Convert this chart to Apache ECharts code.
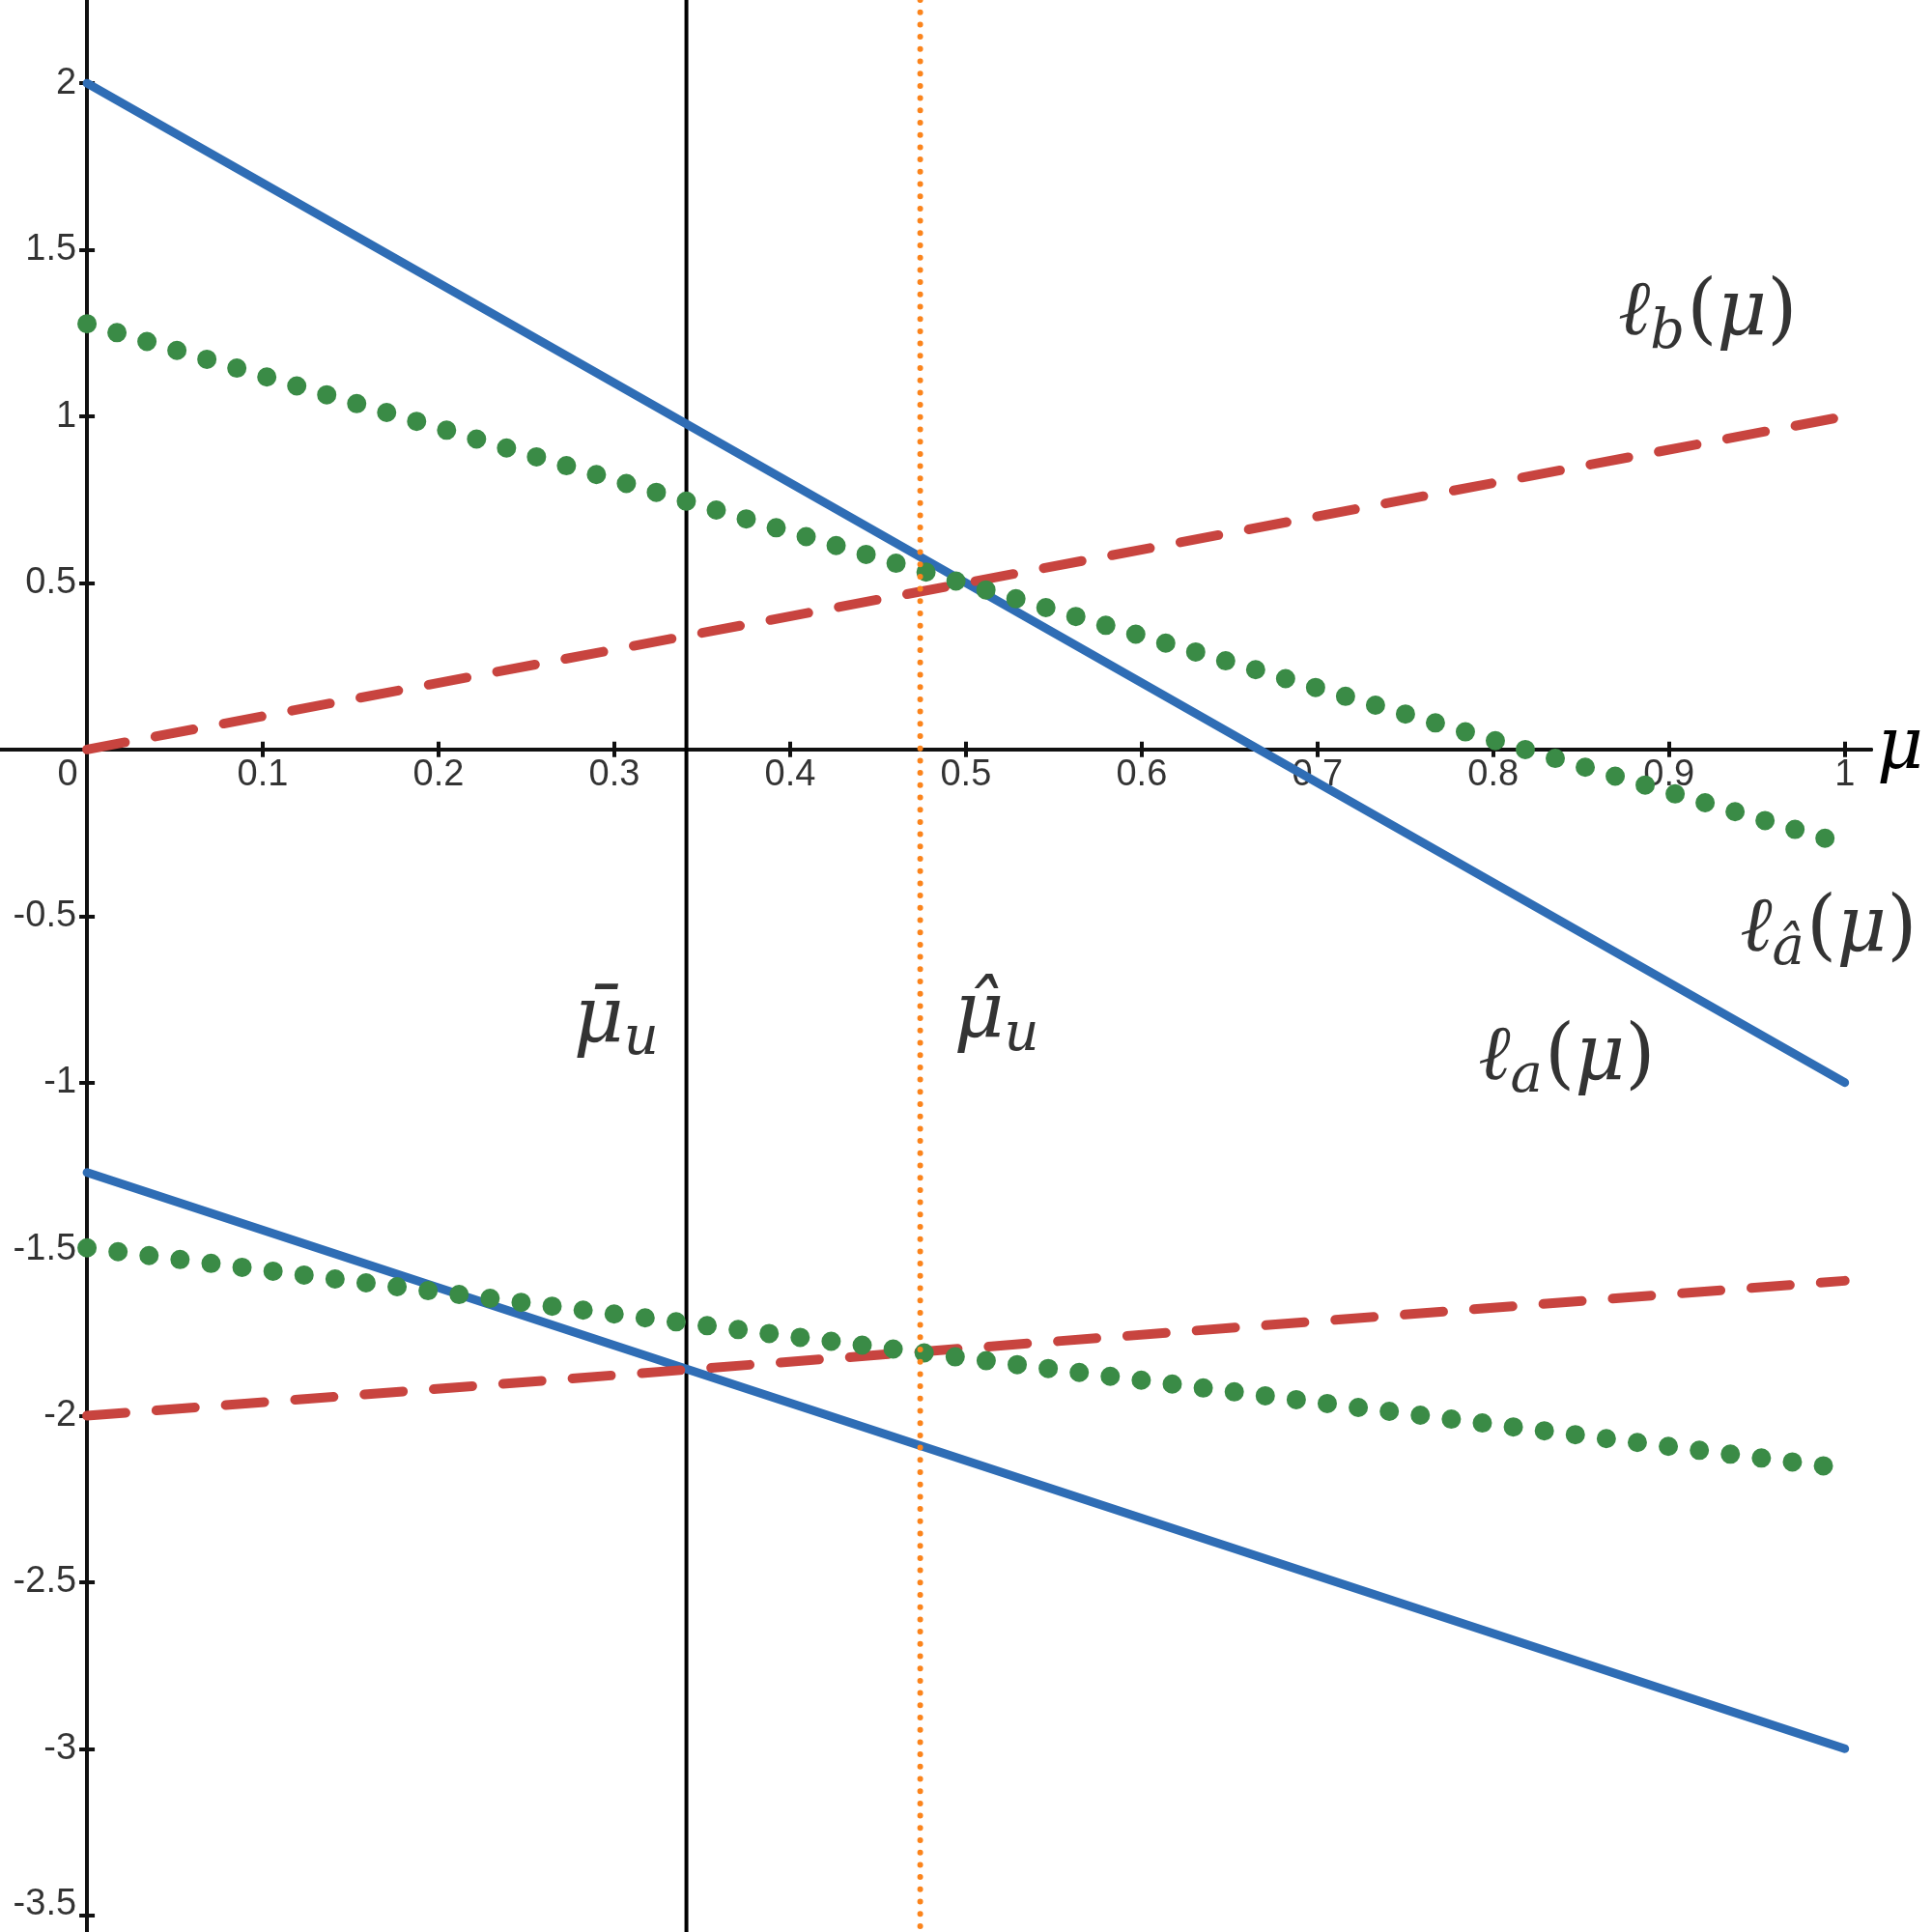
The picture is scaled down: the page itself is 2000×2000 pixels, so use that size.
<!DOCTYPE html>
<html>
<head>
<meta charset="utf-8">
<script src="https://cdn.jsdelivr.net/npm/echarts@6/dist/echarts.min.js"></script>
<style>
  html, body { margin: 0; padding: 0; background: #fff; }
  #chart { width: 2000px; height: 2000px; }
</style>
</head>
<body>
<div id="chart"></div>
<script>
// axis extents (the plot fills the whole canvas)
const xRange = [-0.0495, 1.015]
const yRange = [-3.55, 2.25]

const xTicks = [0.1, 0.2, 0.3, 0.4, 0.5, 0.6, 0.7, 0.8, 0.9, 1]
const xLabels = [0, 0.1, 0.2, 0.3, 0.4, 0.5, 0.6, 0.7, 0.8, 0.9, 1]
const yTicks = [-3.5, -3, -2.5, -2, -1.5, -1, -0.5, 0.5, 1, 1.5, 2]

// line endpoints [mu, value]
const laUpper = [[0, 2], [1, -1]]
const lbUpper = [[0, 0], [1, 1]]
const lhatUpper = [[0, 1.278], [0.991, -0.27]]
const laLower = [[0, -1.27], [1, -3]]
const lbLower = [[0, -2], [1, -1.595]]
const lhatLower = [[0, -1.496], [0.99, -2.152]]

// vertical markers
const muBar = 0.341
const muHat = 0.474

// annotations
const noteText = [
  '{l|ℓ}{s|b}{p|(}{m|μ}{p|)}',
  '{l|ℓ}{s|â}{p|(}{m|μ}{p|)}',
  '{l|ℓ}{s|a}{p|(}{m|μ}{p|)}',
  '{m|μ̄}{s|u}',
  '{m|μ̂}{s|u}'
]
const noteX = [0.922, 0.9907, 0.8418, 0.3016, 0.518]
const noteY = [1.3075, -0.543, -0.928, -0.815, -0.801]

const blue = '#2f6db5'
const red = '#c8443f'
const green = '#3a8b46'
const orange = '#fb841c'
const ink = '#111'
const mathFont = 'DejaVu Serif'
const tickFont = 'Liberation Sans'

const chart = echarts.init(document.getElementById('chart'))

const lineSeries = (data, style) => ({
  type: 'line',
  data: data,
  symbol: 'none',
  silent: true,
  z: 3,
  lineStyle: Object.assign({ cap: 'round' }, style)
})

const gridBox = { left: 0, right: 63, top: 0, bottom: 0, containLabel: false, outerBoundsMode: 'none' }
const axisLine = { onZero: true, lineStyle: { color: ink, width: 4 } }
const tickStyle = { color: ink, width: 4 }

// tick labels are drawn as text-only points so they sit under the lines
const tickLabelSeries = (data, label) => ({
  type: 'scatter',
  silent: true,
  symbolSize: 0,
  z: 1,
  data: data,
  label: Object.assign({
    show: true,
    fontSize: 38,
    fontFamily: tickFont,
    color: '#000'
  }, label)
})

const option = {
  animation: false,
  backgroundColor: '#fff',
  // second grid on the same box only carries the inner half of each tick
  grid: [Object.assign({}, gridBox), Object.assign({}, gridBox)],
  xAxis: [
    {
      type: 'value',
      gridIndex: 0,
      min: xRange[0],
      max: xRange[1],
      splitLine: { show: false },
      axisLine: axisLine,
      axisTick: { show: true, customValues: xTicks, length: 8, lineStyle: tickStyle },
      axisLabel: { show: false },
      name: 'μ',
      nameLocation: 'end',
      nameGap: 6,
      nameTextStyle: {
        fontFamily: mathFont,
        fontStyle: 'italic',
        fontSize: 74,
        color: '#000',
        verticalAlign: 'middle',
        padding: [0, 0, 8, 0]
      }
    },
    {
      type: 'value',
      gridIndex: 1,
      min: xRange[0],
      max: xRange[1],
      splitLine: { show: false },
      axisLine: axisLine,
      axisTick: { show: true, inside: true, customValues: xTicks, length: 8, lineStyle: tickStyle },
      axisLabel: { show: false }
    }
  ],
  yAxis: [
    {
      type: 'value',
      gridIndex: 0,
      min: yRange[0],
      max: yRange[1],
      splitLine: { show: false },
      axisLine: axisLine,
      axisTick: { show: true, customValues: yTicks, length: 8, lineStyle: tickStyle },
      axisLabel: { show: false }
    },
    {
      type: 'value',
      gridIndex: 1,
      min: yRange[0],
      max: yRange[1],
      splitLine: { show: false },
      axisLine: axisLine,
      axisTick: { show: true, inside: true, customValues: yTicks, length: 8, lineStyle: tickStyle },
      axisLabel: { show: false }
    }
  ],
  series: [
    // x tick labels (origin label nudged left like the original)
    tickLabelSeries(
      xLabels.map(v => (v === 0
        ? { value: [v, 0], label: { offset: [-20, 0] } }
        : { value: [v, 0] })),
      { position: 'bottom', distance: 8, formatter: p => String(p.value[0]) }
    ),
    // y tick labels (lowest one lifted off the bottom edge)
    tickLabelSeries(
      yTicks.map(v => (v === -3.5
        ? { value: [0, v], label: { offset: [0, -11] } }
        : { value: [0, v] })),
      { position: 'left', distance: 11, formatter: p => String(p.value[1]) }
    ),
    // vertical markers
    lineSeries([[muBar, yRange[0]], [muBar, yRange[1]]], { color: '#000', width: 4, cap: 'butt' }),
    // l_a (solid blue)
    lineSeries(laUpper, { color: blue, width: 9 }),
    lineSeries(laLower, { color: blue, width: 9 }),
    // l_b (dashed red)
    lineSeries(lbUpper, { color: red, width: 10, type: [40, 32] }),
    lineSeries(lbLower, { color: red, width: 10, type: [40, 32] }),
    // l_a-hat (dotted green)
    lineSeries(lhatUpper, { color: green, width: 20, type: [0, 32.35] }),
    lineSeries(lhatLower, { color: green, width: 20, type: [0, 32.35] }),
    lineSeries([[muHat, yRange[1]], [muHat, yRange[0]]], { color: orange, width: 6, type: [0, 12.7] }),
    {
      type: 'scatter',
      silent: true,
      symbolSize: 0,
      z: 4,
      data: noteX.map((x, i) => [x, noteY[i], noteText[i]]),
      label: {
        show: true,
        position: 'inside',
        formatter: p => p.data[2],
        color: '#000',
        fontFamily: mathFont,
        rich: {
          l: { fontFamily: mathFont, fontStyle: 'italic', fontSize: 80, color: '#000' },
          s: { fontFamily: mathFont, fontStyle: 'italic', fontSize: 56, color: '#000', padding: [40, 2, 0, 0] },
          p: { fontFamily: mathFont, fontSize: 80, color: '#000' },
          m: { fontFamily: mathFont, fontStyle: 'italic', fontSize: 80, color: '#000' }
        }
      }
    }
  ]
}

chart.setOption(option)
</script>
</body>
</html>
